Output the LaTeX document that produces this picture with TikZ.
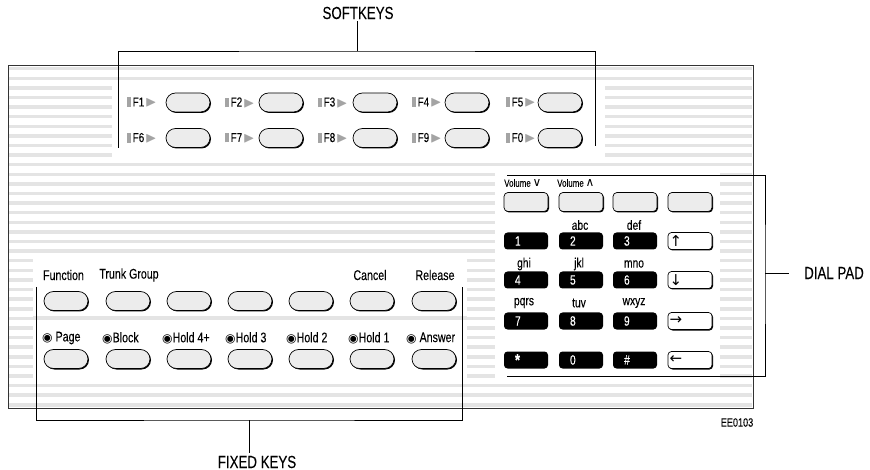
\documentclass[tikz,border=0pt]{standalone}
\usepackage{amssymb}
\usepackage{fontspec}
\setmainfont{Liberation Sans}[FakeStretch=0.76,FakeBold=0.05]
\newfontfamily\symfont{DejaVu Sans}
\usetikzlibrary{shadows}

\definecolor{keygray}{HTML}{ECECEC}
\definecolor{stripegray}{HTML}{E4E4E4}
\definecolor{bargray}{HTML}{A4A4A4}

\newcommand{\fmark}[1]{\textcolor{bargray}{\rule[-0.5pt]{3.5pt}{9.5pt}}\hspace{2pt}#1\hspace{1pt}\textcolor{bargray}{\raisebox{-0.5pt}{\fontsize{15}{15}\selectfont$\blacktriangleright$}}}
\newcommand{\ledmark}{{\symfont\fontsize{12}{12}\selectfont ◉}}

\begin{document}
\begin{tikzpicture}[x=1pt,y=-1pt,
  keyshadow/.style={drop shadow={shadow xshift=1pt,shadow yshift=-1pt,opacity=1,fill=black}},
  pill/.style={draw, line width=0.7pt, fill=keygray, rounded corners=9.5pt, minimum width=44pt, minimum height=19pt, inner sep=0pt, keyshadow},
  padkey/.style={draw, line width=0.7pt, fill=keygray, rounded corners=4pt, minimum width=44pt, minimum height=19pt, inner sep=0pt, keyshadow},
  numkey/.style={fill=black, text=white, rounded corners=3.5pt, minimum width=44pt, minimum height=17pt, inner sep=0pt, text width=22pt, align=left, font=\fontsize{13.5}{13}\selectfont},
  arrowkey/.style={draw, line width=0.7pt, fill=white, rounded corners=3.5pt, minimum width=44pt, minimum height=17pt, inner sep=0pt, text width=41pt, align=left, keyshadow, font=\symfont\fontsize{15}{15}\selectfont},
  keylabel/.style={font=\fontsize{14}{15}\selectfont, inner sep=0pt},
  flabel/.style={font=\fontsize{13}{14}\selectfont, inner sep=0pt, anchor=west},
  padlabel/.style={font=\fontsize{13.5}{14}\selectfont, inner sep=0pt},
  vollabel/.style={font=\fontsize{10.5}{11}\selectfont, inner sep=0pt, anchor=west},
  title/.style={font=\fontsize{17.5}{19}\selectfont, inner sep=0pt},
  stripe/.style={fill=stripegray},
  panel/.style={fill=white},
  bracket/.style={line width=0.8pt}]
\useasboundingbox (0,0) rectangle (870,470);

% housing with stripes and the three white panels
\foreach \sy in {67,76.6,...,404} \fill[stripe] (9,\sy) rectangle (752,\sy+3.5);
\fill[panel] (112,84) rectangle (605,162);
\fill[panel] (33,258) rectangle (467,383);
\fill[panel] (495,167) rectangle (720,382);
\fill[stripe] (33,316.5) rectangle (467,320);
\draw[line width=0.9pt, black!80] (8,65) rectangle (753,408);

% softkeys
\node[pill] (f1key) at (188,102.5) {};
\node[flabel] (f1lbl) at (127,102.5) {\fmark{F1}};
\node[pill] (f2key) at (281,102.5) {};
\node[flabel] (f2lbl) at (225,102.5) {\fmark{F2}};
\node[pill] (f3key) at (375,102.5) {};
\node[flabel] (f3lbl) at (318,102.5) {\fmark{F3}};
\node[pill] (f4key) at (467,102.5) {};
\node[flabel] (f4lbl) at (412,102.5) {\fmark{F4}};
\node[pill] (f5key) at (560,102.5) {};
\node[flabel] (f5lbl) at (506,102.5) {\fmark{F5}};
\node[pill] (f6key) at (188,138) {};
\node[flabel] (f6lbl) at (127,138) {\fmark{F6}};
\node[pill] (f7key) at (281,138) {};
\node[flabel] (f7lbl) at (225,138) {\fmark{F7}};
\node[pill] (f8key) at (375,138) {};
\node[flabel] (f8lbl) at (318,138) {\fmark{F8}};
\node[pill] (f9key) at (467,138) {};
\node[flabel] (f9lbl) at (412,138) {\fmark{F9}};
\node[pill] (f0key) at (560,138) {};
\node[flabel] (f0lbl) at (506,138) {\fmark{F0}};

% fixed keys
\node[keylabel] (function) at (63.5,275) {Function};
\node[keylabel] (trunkgroup) at (129,275) {Trunk Group};
\node[keylabel] (cancel) at (370,275) {Cancel};
\node[keylabel] (release) at (435,275) {Release};
\node[pill] (fx1) at (66,301) {};
\node[pill] (fx2) at (128,301) {};
\node[pill] (fx3) at (189,301) {};
\node[pill] (fx4) at (250,301) {};
\node[pill] (fx5) at (311,301) {};
\node[pill] (fx6) at (372,301) {};
\node[pill] (fx7) at (434,301) {};
\node[keylabel, anchor=west] (page) at (42,338) {\ledmark\ Page};
\node[keylabel, anchor=west] (block) at (102,338) {\ledmark Block};
\node[keylabel, anchor=west] (hold4) at (162,338) {\ledmark Hold 4+};
\node[keylabel, anchor=west] (hold3) at (225,338) {\ledmark Hold 3};
\node[keylabel, anchor=west] (hold2) at (286,338) {\ledmark Hold 2};
\node[keylabel, anchor=west] (hold1) at (348,338) {\ledmark Hold 1};
\node[keylabel, anchor=west] (answer) at (406,338) {\ledmark\ Answer};
\node[pill] (ln1) at (66,359) {};
\node[pill] (ln2) at (128,359) {};
\node[pill] (ln3) at (189,359) {};
\node[pill] (ln4) at (250,359) {};
\node[pill] (ln5) at (311,359) {};
\node[pill] (ln6) at (372,359) {};
\node[pill] (ln7) at (434,359) {};

% dial pad
\node[vollabel] (voldown) at (504,183) {Volume\,{\symfont\fontsize{12}{12}\selectfont ∨}};
\node[vollabel] (volup) at (557,183) {Volume\,{\symfont\fontsize{12}{12}\selectfont ∧}};
\node[padkey] (pk1) at (526,202) {};
\node[padkey] (pk2) at (581,202) {};
\node[padkey] (pk3) at (635,202) {};
\node[padkey] (pk4) at (690,202) {};
\node[padlabel] (abc) at (580,225) {abc};
\node[padlabel] (def) at (634,225) {def};
\node[numkey] (d1) at (526,241) {1};
\node[numkey] (d2) at (581,241) {2};
\node[numkey] (d3) at (635,241) {3};
\node[arrowkey] (up) at (690,241) {↑};
\node[padlabel] (ghi) at (524,264) {ghi};
\node[padlabel] (jkl) at (579,264) {jkl};
\node[padlabel] (mno) at (634,264) {mno};
\node[numkey] (d4) at (526,280) {4};
\node[numkey] (d5) at (581,280) {5};
\node[numkey] (d6) at (635,280) {6};
\node[arrowkey] (down) at (690,280) {↓};
\node[padlabel] (pqrs) at (524,303) {pqrs};
\node[padlabel] (tuv) at (579,303) {tuv};
\node[padlabel] (wxyz) at (634,303) {wxyz};
\node[numkey] (d7) at (526,321) {7};
\node[numkey] (d8) at (581,321) {8};
\node[numkey] (d9) at (635,321) {9};
\node[arrowkey] (right) at (690,321) {→};
\node[numkey] (star) at (526,360) {\raisebox{-3pt}{\fontsize{17}{17}\selectfont\bfseries *}};
\node[numkey] (d0) at (581,360) {0};
\node[numkey] (hash) at (635,360) {\textit{\#}};
\node[arrowkey] (left) at (690,360) {←};

% callouts
\node[title] (softkeys) at (358,13) {SOFTKEYS};
\coordinate (skTop) at (357,51);
\coordinate (skL) at (118,148);
\coordinate (skR) at (595,146);
\draw[bracket] (skL) |- (skTop) -| (skR);
\draw[bracket] (skTop) -- ([yshift=-2pt]skTop |- softkeys.south);

\node[title] (fixedkeys) at (257,462) {FIXED KEYS};
\coordinate (fkBot) at (249,420);
\coordinate (fkL) at (36,287);
\coordinate (fkR) at (462,287);
\draw[bracket] (fkL) |- (fkBot) -| (fkR);
\draw[bracket] (fkBot) -- ([yshift=3pt]fkBot |- fixedkeys.north);

\node[title] (dialpad) at (834,273) {DIAL PAD};
\coordinate (dpT) at (507,175);
\coordinate (dpB) at (507,376);
\coordinate (dpMid) at (765,273);
\draw[bracket] (dpT) -| (dpMid) |- (dpB);
\draw[bracket] (dpMid) -- ([xshift=-15pt]dialpad.west);

\node[font=\fontsize{12}{13}\selectfont, inner sep=0pt] (code) at (737,422.5) {EE0103};
\end{tikzpicture}
\end{document}
